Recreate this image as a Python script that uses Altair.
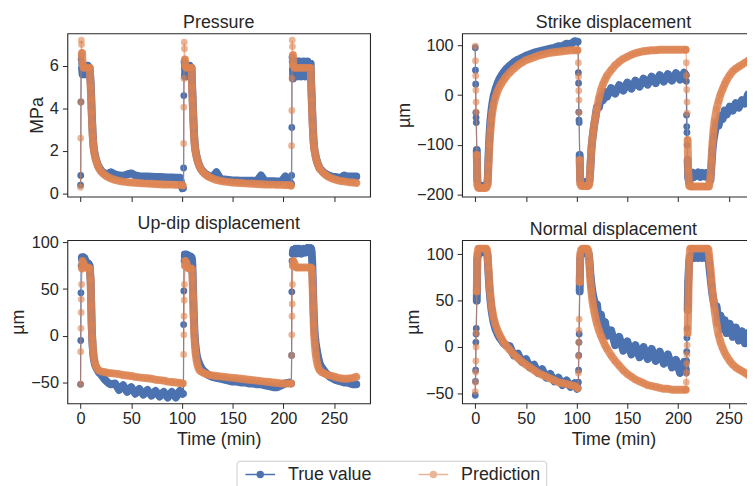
import altair as alt
import pandas as pd

# ---------------- time axis (min), three loading cycles ----------------
T1 = [0, 0.2, 0.4, 0.6, 0.8, 1,
      1.5, 2, 3, 4, 5, 6, 7, 8, 9, 10,
      10.5, 11, 11.5, 12, 12.5, 13,
      14, 15, 16, 17, 18,
      20, 22, 24, 26, 28, 30,
      34, 38, 42, 46, 50, 54, 58, 62, 66, 70, 74, 78, 82, 86, 90, 94, 98,
      100.5]
T2 = [101.5, 101.7, 101.9, 102.1, 102.3, 102.5,
      103, 103.5, 104.5, 105.5, 106.5, 107.5, 108.5, 109.5,
      110, 110.5, 111, 111.5, 112, 112.5, 113, 113.5,
      114.5, 115.5, 116.5, 117.5, 118.5,
      120, 122, 124, 126, 128, 130,
      134, 138, 142, 146, 150, 154, 158, 162, 166, 170, 174, 178, 182, 186, 190, 194, 198, 202, 206,
      207.5]
T3 = [208, 208.2, 208.4, 208.6, 208.8, 209,
      209.5, 210, 211, 212, 213, 214, 215, 216,
      218, 220, 222, 224, 226,
      227, 227.5, 228, 228.5, 229, 229.5, 230, 230.5, 231,
      232, 233, 234, 235, 236,
      238, 240, 242, 244, 246, 248,
      251, 254, 257, 260, 263, 266, 269, 272]
time_min = T1 + T2 + T3
JUMP_SAMPLES = 6  # the first samples of every cycle are the fast pressurisation step

# ---------------- Pressure (MPa) ----------------
pressure_true = [
    0.4, 0.85, 4.3, 6.3, 6.5, 6.1,
    5.9, 5.6, 6.0, 5.6, 6.0, 5.6, 6.0, 5.6, 5.9, 5.2,
    4.6, 3.9, 3.3, 2.8, 2.4, 2.15,
    1.85, 1.65, 1.5, 1.35, 1.25,
    1.1, 1.0, 0.93, 0.9, 0.95, 1.0,
    0.9, 0.85, 0.84, 0.9, 0.95, 0.85, 0.82, 0.8, 0.8, 0.79, 0.78, 0.78, 0.77, 0.76, 0.76, 0.75, 0.74,
    0.25,
] + [
    0.25, 1.2, 4.6, 6.2, 6.1, 5.9,
    5.5, 6.0, 5.5, 6.0, 5.5, 6.0, 5.6, 5.9,
    5.1, 4.6, 3.9, 3.3, 2.8, 2.4, 2.15, 2.0,
    1.75, 1.55, 1.4, 1.28, 1.18,
    1.08, 0.98, 0.9, 0.84, 0.8, 0.78,
    1.0, 0.7, 0.66, 0.64, 0.62, 0.62, 0.61, 0.6, 0.6, 0.6, 0.59, 0.85, 0.58, 0.58, 0.58, 0.57, 0.57, 0.8, 0.56,
    0.45,
] + [
    0.45, 0.85, 3.1, 6.4, 6.2, 5.8,
    5.4, 6.1, 5.5, 6.2, 5.5, 6.2, 5.5, 6.2,
    5.5, 6.2, 5.5, 6.2, 5.6,
    6.1, 5.2, 4.6, 3.9, 3.3, 2.8, 2.4, 2.15, 2.0,
    1.75, 1.55, 1.4, 1.28, 1.18,
    1.08, 0.98, 0.92, 0.87, 0.83, 0.8,
    0.78, 0.76, 0.75, 0.85, 0.8, 0.8, 0.8, 0.8,
]
pressure_pred = [
    0.3, 2.6, 4.3, 6.5, 7.2, 7.0,
    6.6, 6.1, 5.9, 5.9, 5.9, 5.9, 5.9, 5.9, 5.9, 5.0,
    4.4, 3.8, 3.2, 2.7, 2.35, 2.1,
    1.8, 1.6, 1.45, 1.32, 1.2,
    1.05, 0.95, 0.87, 0.8, 0.75, 0.71,
    0.64, 0.6, 0.56, 0.54, 0.52, 0.51, 0.5, 0.48, 0.47, 0.46, 0.45, 0.44, 0.43, 0.42, 0.42, 0.41, 0.41,
    0.4,
] + [
    0.35, 2.35, 4.05, 5.4, 7.1, 6.8,
    6.3, 5.95, 5.9, 5.9, 5.9, 5.9, 5.9, 5.9,
    5.0, 4.4, 3.8, 3.2, 2.7, 2.35, 2.1, 1.95,
    1.7, 1.52, 1.38, 1.26, 1.16,
    1.05, 0.95, 0.87, 0.8, 0.75, 0.71,
    0.64, 0.6, 0.56, 0.54, 0.52, 0.51, 0.5, 0.48, 0.47, 0.46, 0.45, 0.44, 0.43, 0.42, 0.42, 0.41, 0.41, 0.4, 0.4,
    0.38,
] + [
    0.35, 2.25, 3.9, 5.4, 7.2, 6.9,
    6.5, 6.0, 5.9, 5.9, 5.9, 5.9, 5.9, 5.9,
    5.9, 5.9, 5.9, 5.9, 5.9,
    5.9, 5.0, 4.4, 3.8, 3.2, 2.7, 2.35, 2.1, 1.95,
    1.7, 1.52, 1.38, 1.26, 1.16,
    1.05, 0.95, 0.87, 0.8, 0.75, 0.71,
    0.66, 0.62, 0.59, 0.57, 0.55, 0.53, 0.52, 0.5,
]

# ---------------- Strike displacement (um) ----------------
strike_true = [
    95, 50, 22, -35, -45, -55,
    -110, -170, -182, -184, -184, -184, -183, -182, -181, -180,
    -180, -180, -179, -178, -160, -125,
    -80, -50, -30, -15, -3,
    12, 24, 33, 40, 46, 51,
    59, 66, 71, 75, 79, 82, 85, 87, 89, 91, 93, 95, 98, 98, 103, 102, 108,
    107,
] + [
    107, 45, 24, -34, -50, -55,
    -120, -170, -176, -176, -175, -175, -174, -174,
    -174, -174, -175, -175, -175, -173, -165, -148,
    -110, -88, -72, -57, -45,
    -24, -24, -4, -10, 6, -3,
    14, 3, 20, 9, 25, 13, 29, 17, 33, 21, 37, 24, 40, 27, 42, 29, 44, 31, 45,
    40,
] + [
    40, 28, -40, -63, -75, -100,
    -130, -165, -175, -168, -160, -155, -165, -157,
    -162, -155, -164, -156, -163,
    -157, -163, -156, -162, -157, -163, -158, -165, -170,
    -170, -140, -110, -90, -78,
    -56, -61, -42, -48, -31, -39,
    -23, -31, -16, -25, -10, -17, 1, -6,
]
strike_pred = [
    98, 69, 39, 10, -14, -34,
    -120, -180, -186, -186, -186, -186, -186, -186, -186, -186,
    -186, -185, -183, -180, -165, -140,
    -100, -70, -48, -32, -20,
    -4, 8, 17, 24, 30, 36,
    45, 53, 60, 65, 70, 73, 76, 79, 81, 83, 85, 86, 87, 88, 89, 90, 90,
    90,
] + [
    90, 65, 37, 9, -10, -35,
    -130, -178, -182, -182, -182, -182, -182, -182,
    -182, -182, -182, -182, -181, -178, -165, -145,
    -110, -88, -72, -56, -44,
    -28, -6, 10, 22, 31, 39,
    50, 60, 67, 73, 77, 81, 84, 86, 88, 89, 90, 90, 91, 91, 91, 91, 91, 91, 91,
    91,
] + [
    91, 65, 39, 11, -14, -36,
    -90, -150, -182, -183, -183, -183, -183, -183,
    -183, -183, -183, -183, -183,
    -183, -183, -183, -183, -183, -183, -183, -183, -178,
    -165, -130, -95, -70, -52,
    -28, -12, 2, 12, 22, 30,
    40, 48, 53, 57, 61, 65, 69, 72,
]

# ---------------- Up-dip displacement (um) ----------------
updip_true = [
    -52, -5, 46, 75, 82, 83,
    84, 84, 84, 83, 80, 78, 78, 77, 75, 58,
    35, 12, -3, -12, -19, -24,
    -30, -33, -35, -37, -39,
    -41, -44, -47, -49, -51, -52,
    -51, -58, -53, -60, -55, -62, -57, -63, -58, -64, -59, -65, -60, -66, -60, -66, -59,
    -62,
] + [
    -62, 12, 48, 80, 85, 87,
    87, 87, 87, 86, 86, 85, 85, 84,
    82, 70, 50, 30, 14, 2, -6, -12,
    -20, -25, -28, -31, -33,
    -36, -38, -40, -42, -43, -44,
    -45, -46, -47, -48, -49, -49, -50, -50, -51, -51, -52, -52, -53, -54, -55, -55, -53, -51, -50,
    -51,
] + [
    -51, -21, 47, 80, 88, 90,
    88, 92, 89, 93, 88, 93, 89, 93,
    88, 93, 89, 94, 90,
    94, 93, 90, 80, 62, 42, 25, 12, 2,
    -8, -15, -21, -26, -30,
    -34, -37, -40, -42, -44, -45,
    -47, -48, -49, -50, -50, -51, -52, -52,
]
updip_pred = [
    -52, -17, 8, 25, 39, 55,
    72, 80, 78, 74, 73, 73, 73, 73, 72, 60,
    32, 12, -2, -10, -17, -22,
    -28, -32, -34, -36, -37,
    -38, -38.5, -39, -39.5, -40, -40,
    -40.5, -41, -42, -42.5, -43, -44, -44.5, -45, -45.5, -46, -47, -47.5, -48, -49, -49.5, -50, -50.5,
    -51,
] + [
    -51, -20, 1, 21, 38, 55,
    75, 80, 78, 73, 72, 72, 72, 72,
    71, 62, 42, 22, 6, -5, -13, -19,
    -27, -32, -35, -37, -38,
    -39, -40, -41, -41.5, -42, -42.5,
    -43, -43.5, -44, -44.5, -45, -45.5, -46, -46.5, -47, -47.5, -48, -48.5, -49, -49.5, -50, -50.5, -51, -51, -51,
    -51,
] + [
    -51, -21, 1, 21, 34, 55,
    75, 80, 78, 74, 73, 73, 73, 73,
    73, 73, 73, 73, 73,
    73, 73, 72, 65, 50, 30, 12, 0, -9,
    -20, -27, -32, -35, -37,
    -39, -40, -41, -42, -42.5, -43,
    -44, -45, -45.5, -46, -46, -45.5, -45, -44,
]

# ---------------- Normal displacement (um) ----------------
normal_true = [
    -52, -37, -25, 5, 14, 20,
    50, 95, 100, 101, 102, 102, 102, 103, 103, 103,
    103, 103, 102, 100, 90, 80,
    62, 50, 40, 33, 27,
    19, 14, 10, 7, 4, 2,
    1, -9, -7, -16, -13, -22, -19, -28, -24, -33, -29, -37, -33, -41, -36, -43, -39,
    -45,
] + [
    -44, -38, -25, -9, 5, 14,
    60, 95, 100, 101, 101, 102, 102, 102,
    102, 102, 102, 101, 100, 95, 88, 80,
    68, 60, 54, 49, 45,
    46, 28, 35, 19, 27, 12,
    18, 2, 11, -4, 6, -8, 2, -11, 0, -13, -2, -15, -5, -18, -8, -22, -14, -28, -16,
    -24,
] + [
    -24, -28, -15, -5, 10, 20,
    40, 70, 92, 97, 99, 96, 99, 96,
    99, 96, 99, 96, 99,
    96, 99, 97, 99, 98, 97, 96, 92, 85,
    75, 65, 56, 50, 45,
    44, 26, 34, 19, 29, 15,
    25, 11, 21, 7, 17, 4, 15, 2,
]
normal_pred = [
    -48, -38, -27, -15, 0, 15,
    60, 100, 106, 106, 106, 106, 106, 106, 106, 106,
    106, 106, 105, 100, 93, 85,
    68, 55, 45, 38, 32,
    24, 18, 13, 9, 5, 2,
    -3, -8, -12, -16, -19, -22, -25, -28, -30, -32, -34, -36, -38, -39, -40, -41, -42,
    -44,
] + [
    -45, -28, -10, 5, 18, 30,
    70, 100, 105, 106, 106, 106, 106, 106,
    106, 106, 105, 104, 100, 90, 80, 72,
    60, 50, 43, 37, 32,
    25, 18, 12, 7, 2, -2,
    -9, -15, -20, -25, -29, -32, -35, -37, -39, -41, -42, -43, -44, -45, -45, -46, -46, -46, -46,
    -46,
] + [
    -46, -38, -28, -18, -8, 2,
    15, 40, 95, 106, 106, 106, 106, 106,
    106, 106, 106, 106, 106,
    106, 106, 106, 106, 106, 106, 105, 100, 95,
    85, 72, 60, 50, 40,
    25, 13, 5, -1, -6, -10,
    -15, -19, -22, -24, -26, -28, -30, -32,
]

series_names = ["True value", "Prediction"]
x_ticks = [0, 50, 100, 150, 200, 250]

# (title, y title, true, prediction, y domain, y ticks, x labels?)
panels = [
    ("Pressure", "MPa", pressure_true, pressure_pred, [-0.14, 7.52], [0, 2, 4, 6], False),
    ("Strike displacement", "µm", strike_true, strike_pred, [-203.3, 123.8], [-200, -100, 0, 100], False),
    ("Up-dip displacement", "µm", updip_true, updip_pred, [-72.3, 102.4], [-50, 0, 50, 100], True),
    ("Normal displacement", "µm", normal_true, normal_pred, [-60.7, 115.2], [-50, 0, 50, 100], True),
]

for p in panels:
    if len(p[2]) != len(time_min) or len(p[3]) != len(time_min):
        raise ValueError(f"{p[0]}: {len(p[2])} / {len(p[3])} vs {len(time_min)}")

# cycle number and "fast step" flag of each sample, derived from the time lists
cycle_of = []
jump_of = []
for k, T in enumerate([T1, T2, T3], start=1):
    cycle_of += [k] * len(T)
    jump_of += [1 if i < JUMP_SAMPLES else 0 for i in range(len(T))]

BLUE = "#4C72B0"
ORANGE = "#DD8452"
INK = "#262626"
FONT = "Liberation Sans"

LEGEND_PATH = ("M-1,0L5,0"
               "M2.6,0A0.6,0.6,0,1,1,1.4,0A0.6,0.6,0,1,1,2.6,0"
               "M2.35,0A0.35,0.35,0,1,1,1.65,0A0.35,0.35,0,1,1,2.35,0"
               "M2.12,0A0.12,0.12,0,1,1,1.88,0A0.12,0.12,0,1,1,2.12,0")

legend = alt.Legend(
    orient="none", legendX=171, legendY=432, direction="horizontal", title=None,
    symbolType=LEGEND_PATH, symbolSize=100, symbolStrokeWidth=1.5,
    labelFont=FONT, labelFontSize=18, labelColor=INK, labelOffset=29,
    columnPadding=43, padding=5, strokeColor="#cccccc", cornerRadius=3, fillColor="white",
)


def panel(title, ytitle, tv, pv, ydom, yticks, show_x):
    n = len(time_min)
    df = pd.DataFrame({
        "t": time_min + time_min,
        "v": list(tv) + list(pv),
        "series": [series_names[0]] * n + [series_names[1]] * n,
        "cycle": cycle_of + cycle_of,
        "jump": jump_of + jump_of,
    })
    if show_x:
        xaxis = alt.Axis(values=x_ticks, title="Time (min)", labelFlush=False)
    else:
        xaxis = alt.Axis(values=x_ticks, labels=False, title=None)
    x = alt.X("t:Q", scale=alt.Scale(domain=[-13, 285.6], nice=False, zero=False), axis=xaxis)
    y = alt.Y("v:Q", scale=alt.Scale(domain=ydom, nice=False, zero=False),
              axis=alt.Axis(values=yticks, title=ytitle, labelFlush=False))
    base = alt.Chart(df).encode(x=x, y=y)

    def band(name, color, opacity):
        return base.transform_filter(
            (alt.datum.series == name) & (alt.datum.jump == 0)
        ).mark_line(strokeWidth=8, color=color, opacity=opacity, strokeCap="round",
                    strokeJoin="round", clip=True).encode(detail="cycle:N")

    thin = base.mark_line(strokeWidth=1.2, clip=True).encode(
        color=alt.Color("series:N", scale=alt.Scale(domain=series_names, range=[BLUE, ORANGE]), legend=legend),
        opacity=alt.Opacity("series:N", scale=alt.Scale(domain=series_names, range=[1.0, 0.6]), legend=legend),
    )
    pts_true = base.transform_filter(alt.datum.series == series_names[0]).mark_circle(
        size=48, color=BLUE, opacity=1, clip=True)
    pts_pred = base.transform_filter(alt.datum.series == series_names[1]).mark_circle(
        size=48, color=ORANGE, opacity=0.6, clip=True)
    return alt.layer(
        band(series_names[0], BLUE, 1.0), pts_true, thin,
        band(series_names[1], ORANGE, 0.85), pts_pred,
    ).properties(width=306, height=165, title=title)


charts = [panel(*p) for p in panels]

# the right-hand panels run past the page edge, as in the original figure
chart = alt.concat(*charts, columns=2, spacing={"row": 10, "column": 24}).properties(
    padding={"left": 1, "top": 3, "right": -19, "bottom": 0}
).configure_axis(
    labelFont=FONT, titleFont=FONT, labelFontSize=16.5, titleFontSize=18,
    labelColor=INK, titleColor=INK, tickColor=INK, tickSize=5, tickWidth=1,
    domain=False, grid=False, titleFontWeight="normal",
).configure_axisX(labelPadding=2, titlePadding=4).configure_axisY(
    labelPadding=4, titlePadding=3
).configure_view(stroke=INK, strokeWidth=1.1).configure_title(
    font=FONT, fontSize=18, fontWeight="normal", color=INK, anchor="middle",
    offset=1, baseline="alphabetic",
)

chart.save("out.html", embed_options={"renderer": "svg", "actions": False})
